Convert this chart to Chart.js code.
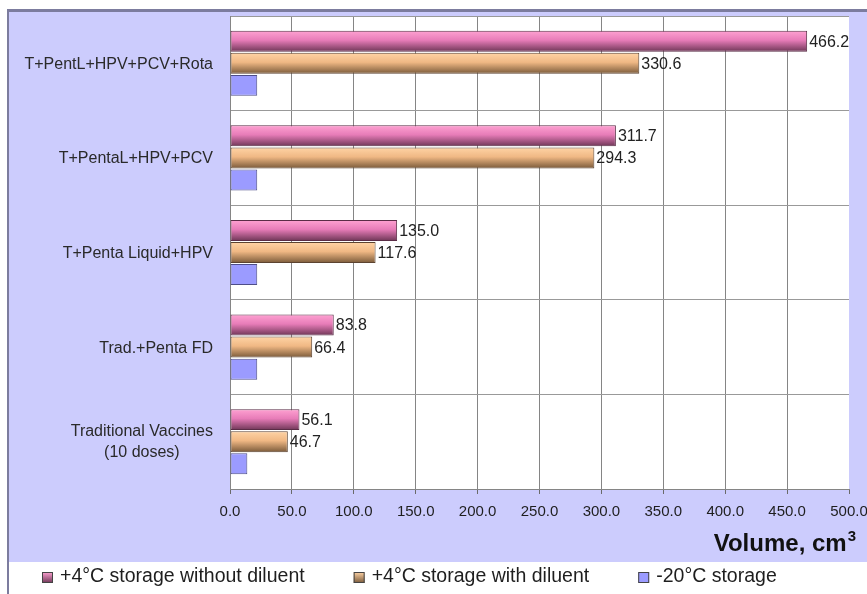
<!DOCTYPE html>
<html>
<head>
<meta charset="utf-8">
<script src="https://cdn.jsdelivr.net/npm/chart.js@4.4.1/dist/chart.umd.min.js"></script>
<style>
  html, body { margin: 0; padding: 0; background: #ffffff; }
  #c { display: block; }
</style>
</head>
<body>
<canvas id="c" width="867" height="594"></canvas>
<script>
// Vaccine combinations (top to bottom)
const categories = [
  'T+PentL+HPV+PCV+Rota',
  'T+PentaL+HPV+PCV',
  'T+Penta Liquid+HPV',
  'Trad.+Penta FD',
  ['Traditional Vaccines', '(10 doses)']
];
const seriesNames = [
  '+4\u00B0C storage without diluent',
  '+4\u00B0C storage with diluent',
  '-20\u00B0C storage'
];
// Storage volume per fully immunized child, cm³
const coldNoDiluent = [466.2, 311.7, 135.0, 83.8, 56.1];
const coldWithDiluent = [330.6, 294.3, 117.6, 66.4, 46.7];
const frozen = [22, 22, 22, 22, 14];
// Axis range and title
const axisMin = 0;
const axisMax = 500;
const axisStep = 50;
const axisTitle = 'Volume, cm';
const axisTitleSup = '3';

const FONT = "'Liberation Sans', Arial, Helvetica, sans-serif";
Chart.defaults.font.family = FONT;

const styles = [
  { stops: ['#ffa2d2', '#e77cb8', '#6e3656'], border: '#5a2c46', legend: '#e47ab4' },
  { stops: ['#ffd4a6', '#f0b884', '#7a5a3a'], border: '#5c4330', legend: '#e8b07a' },
  { stops: null, fill: '#9b9bff', border: '#4e4e88', legend: '#9b9bff' }
];

// Frame, lavender panel and white plot area
const framePlugin = {
  id: 'frame',
  beforeDraw(chart) {
    const { ctx, chartArea: a } = chart;
    ctx.save();
    ctx.fillStyle = '#ffffff';
    ctx.fillRect(0, 0, chart.width, chart.height);
    ctx.fillStyle = '#ccccfd';
    ctx.fillRect(8, 12, chart.width - 8, 550);
    ctx.fillStyle = '#7c7c9e';
    ctx.fillRect(7, 9, chart.width - 7, 3);
    ctx.fillRect(7, 9, 2, chart.height - 9);
    ctx.fillStyle = '#ffffff';
    ctx.fillRect(a.left, a.top, a.right - a.left, a.bottom - a.top);
    ctx.restore();
  }
};

// Shaded fill for the two +4°C series
const shadePlugin = {
  id: 'shade',
  beforeDatasetsDraw(chart) {
    const { ctx } = chart;
    chart.data.datasets.forEach((ds, di) => {
      const st = styles[di];
      if (!st.stops) return;
      const meta = chart.getDatasetMeta(di);
      meta.data.forEach(el => {
        const y0 = el.y - el.height / 2;
        const y1 = el.y + el.height / 2;
        const g = ctx.createLinearGradient(0, y0, 0, y1);
        g.addColorStop(0, st.stops[0]);
        g.addColorStop(0.45, st.stops[1]);
        g.addColorStop(1, st.stops[2]);
        el.options = Object.assign({}, el.options, { backgroundColor: g });
      });
    });
  }
};

// Value labels beside the +4°C bars
const valueLabelPlugin = {
  id: 'valueLabels',
  afterDatasetsDraw(chart) {
    const { ctx } = chart;
    ctx.save();
    ctx.font = '16px ' + FONT;
    ctx.fillStyle = '#222222';
    ctx.textAlign = 'left';
    ctx.textBaseline = 'middle';
    [0, 1].forEach(di => {
      const meta = chart.getDatasetMeta(di);
      const values = chart.data.datasets[di].data;
      meta.data.forEach((el, i) => {
        ctx.fillText(values[i].toFixed(1), el.x + 2, el.y + 1);
      });
    });
    ctx.restore();
  }
};

// Category names left of the plot, axis title below it
const axisTextPlugin = {
  id: 'axisText',
  afterDraw(chart) {
    const { ctx } = chart;
    const scale = chart.scales.y;
    const right = chart.chartArea.left - 17;
    ctx.save();
    ctx.font = '16px ' + FONT;
    ctx.fillStyle = '#2a2a2a';
    ctx.textBaseline = 'middle';
    chart.data.labels.forEach((lab, i) => {
      const py = scale.getPixelForValue(i);
      if (Array.isArray(lab)) {
        const w = Math.max(...lab.map(t => ctx.measureText(t).width));
        const cx = right - w / 2;
        const lh = 21;
        ctx.textAlign = 'center';
        lab.forEach((t, k) => {
          ctx.fillText(t, cx, py + (k - (lab.length - 1) / 2) * lh);
        });
      } else {
        ctx.textAlign = 'right';
        ctx.fillText(lab, right, py + 1);
      }
    });

    // "Volume, cm³" with a raised superscript, right-aligned under the axis
    const titleRight = chart.chartArea.right + 7;
    const baseY = 551;
    ctx.fillStyle = '#111111';
    ctx.textBaseline = 'alphabetic';
    ctx.textAlign = 'right';
    ctx.font = 'bold 15px ' + FONT;
    const supW = ctx.measureText(axisTitleSup).width;
    ctx.fillText(axisTitleSup, titleRight, baseY - 10);
    ctx.font = 'bold 24px ' + FONT;
    ctx.fillText(axisTitle, titleRight - supW - 1, baseY);
    ctx.restore();
  }
};

// Legend row along the bottom
const legendPlugin = {
  id: 'bottomLegend',
  afterDraw(chart) {
    const { ctx } = chart;
    ctx.save();
    ctx.font = '19.5px ' + FONT;
    ctx.textBaseline = 'middle';
    ctx.textAlign = 'left';
    let x = 42;
    const cy = 577;
    chart.data.datasets.forEach((ds, di) => {
      const st = styles[di];
      let fill = st.legend;
      if (st.stops) {
        const g = ctx.createLinearGradient(0, cy - 5, 0, cy + 6);
        g.addColorStop(0, st.stops[0]);
        g.addColorStop(1, st.stops[2]);
        fill = g;
      }
      ctx.fillStyle = fill;
      ctx.fillRect(x, cy - 5, 11, 11);
      ctx.strokeStyle = '#444';
      ctx.lineWidth = 1;
      ctx.strokeRect(x + 0.5, cy - 4.5, 10, 10);
      ctx.fillStyle = '#1e1e1e';
      ctx.fillText(ds.label, x + 18, cy);
      x += 18 + ctx.measureText(ds.label).width + 49;
    });
    ctx.restore();
  }
};

new Chart(document.getElementById('c'), {
  type: 'bar',
  data: {
    labels: categories,
    datasets: [
      { label: seriesNames[0], data: coldNoDiluent, backgroundColor: styles[0].stops[1], borderColor: styles[0].border },
      { label: seriesNames[1], data: coldWithDiluent, backgroundColor: styles[1].stops[1], borderColor: styles[1].border },
      { label: seriesNames[2], data: frozen, backgroundColor: styles[2].fill, borderColor: styles[2].border }
    ]
  },
  options: {
    indexAxis: 'y',
    responsive: false,
    animation: false,
    events: [],
    layout: { padding: { top: 16, right: 18, bottom: 32, left: 0 } },
    datasets: {
      bar: { borderWidth: 1, borderSkipped: false, categoryPercentage: 0.7, barPercentage: 0.95 }
    },
    plugins: {
      legend: { display: false },
      tooltip: { enabled: false },
      title: { display: false }
    },
    scales: {
      x: {
        type: 'linear',
        min: axisMin,
        max: axisMax,
        ticks: {
          stepSize: axisStep,
          callback: v => Number(v).toFixed(1),
          font: { size: 15 },
          color: '#1e1e1e',
          padding: 9,
          maxRotation: 0
        },
        grid: {
          color: c => (c.tick && c.tick.value === axisMax) ? 'rgba(0,0,0,0)' : '#858585',
          tickColor: '#6a6a6a',
          tickLength: 5,
          lineWidth: 1
        },
        border: { color: '#858585' },
        title: { display: false },
        afterFit: s => { s.height = 73; s.paddingLeft = 0; s.paddingRight = 0; }
      },
      y: {
        type: 'category',
        ticks: { display: false },
        grid: { color: '#999999', drawTicks: false, offset: true },
        border: { color: '#858585' },
        afterFit: s => { s.width = 230; }
      }
    }
  },
  plugins: [framePlugin, shadePlugin, valueLabelPlugin, axisTextPlugin, legendPlugin]
});
</script>
</body>
</html>
